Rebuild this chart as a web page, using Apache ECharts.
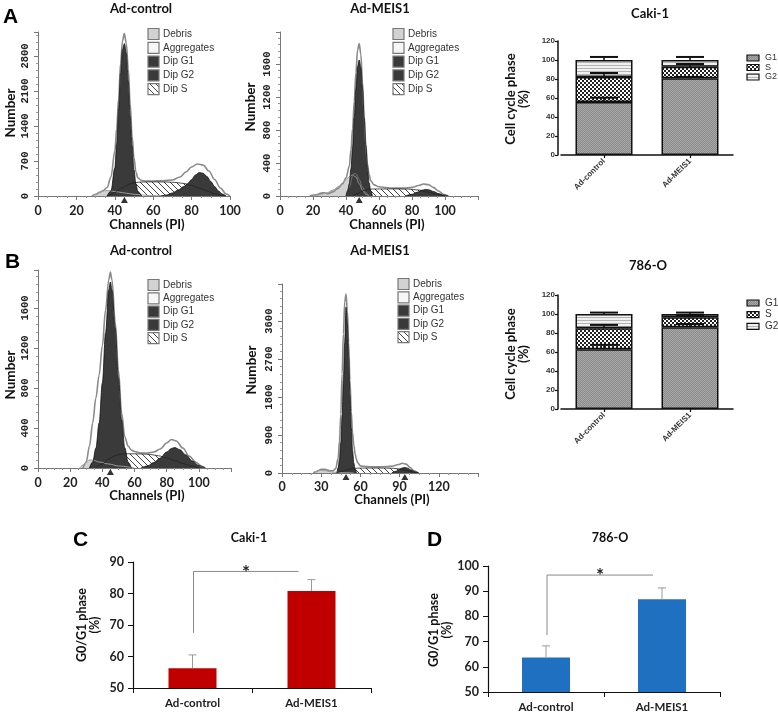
<!DOCTYPE html>
<html><head><meta charset="utf-8">
<script src="https://cdn.jsdelivr.net/npm/echarts@6/dist/echarts.min.js"></script>
<style>html,body{margin:0;padding:0;background:#fff}#c{width:778px;height:713px}</style>
</head><body><div id="c"></div>
<script>
// ---------------- DATA ----------------
// Panel A (Caki-1) DNA histograms: [channel, count]
const a1Env = [[28,0],[30,30],[32,70],[34,110],[36,170],[38,380],[40,900],[41,1350],[42,1950],[43,2650],[44,3100],[45,3250],[46,3050],[47,2550],[48,1850],[49,1200],[50,760],[51,480],[52,360],[54,310],[56,300],[60,300],[65,305],[70,320],[74,380],[77,480],[80,580],[83,640],[86,620],[89,500],[92,330],[95,160],[98,40],[100,0]];
const a1Debris = [[28,0],[30,40],[32,80],[34,100],[36,110],[38,100],[42,80],[46,55],[50,35],[58,10],[66,0]];
const a1S = [[36,0],[38,30],[40,70],[42,120],[44,165],[46,210],[48,245],[50,265],[53,278],[57,282],[62,282],[67,280],[72,270],[76,250],[80,210],[84,160],[88,100],[92,45],[95,10],[97,0]];
const a1G2 = [[64,0],[67,20],[70,60],[73,120],[76,190],[78,250],[80,330],[82,420],[84,470],[86,455],[88,390],[90,290],[92,190],[94,100],[96,40],[98,0]];
const a1G1 = [[36,0],[38,100],[40,560],[41,1050],[42,1750],[43,2450],[44,2930],[45,3050],[46,2850],[47,2300],[48,1600],[49,1000],[50,520],[51,240],[52,90],[54,0]];
const a1Peaks = [[45,0]];

const a2Env = [[18,0],[22,15],[25,35],[27,40],[29,28],[32,50],[35,90],[38,150],[40,220],[42,360],[43,560],[44,820],[45,1150],[46,1500],[47,1770],[48,1850],[49,1720],[50,1380],[51,980],[52,620],[53,390],[54,260],[55,185],[57,135],[60,112],[65,100],[70,96],[75,96],[80,105],[84,128],[87,145],[90,138],[93,105],[96,60],[99,22],[102,0]];
const a2Debris = [[20,0],[24,15],[28,35],[32,70],[36,120],[38,160],[40,200],[42,235],[44,255],[46,230],[48,150],[50,70],[52,20],[54,0]];
const a2Sub = [[40,0],[42,110],[44,240],[45,275],[46,270],[48,200],[50,110],[52,40],[54,0]];
const a2S = [[44,0],[47,30],[50,60],[53,78],[56,85],[62,86],[70,86],[78,84],[84,72],[90,45],[95,20],[100,0]];
const a2G2 = [[76,0],[80,20],[83,45],[86,70],[88,80],[90,76],[93,55],[96,30],[99,10],[102,0]];
const a2G1 = [[40,0],[41,60],[42,150],[43,330],[44,600],[45,950],[46,1300],[47,1570],[48,1650],[49,1560],[50,1300],[51,950],[52,620],[53,350],[54,160],[55,60],[56,0]];
const a2Peaks = [[48,0]];

// Panel B (786-O) DNA histograms
const b1Env = [[28,0],[30,60],[32,220],[34,450],[36,700],[38,930],[40,1220],[42,1580],[44,1880],[45,1960],[46,1880],[48,1460],[50,980],[52,550],[54,310],[56,220],[58,180],[60,165],[64,150],[68,150],[72,160],[76,190],[80,250],[83,285],[86,270],[90,200],[94,120],[98,60],[102,15],[104,0]];
const b1Debris = [[26,0],[28,30],[30,60],[32,80],[34,80],[38,60],[44,40],[50,20],[60,0]];
const b1S = [[36,0],[40,40],[44,90],[48,125],[52,140],[56,142],[60,142],[65,140],[70,135],[75,122],[80,100],[85,75],[90,45],[95,20],[100,0]];
const b1G2 = [[64,0],[68,20],[72,55],[76,100],[80,160],[83,195],[85,205],[88,185],[92,130],[96,70],[100,25],[104,0]];
const b1G1 = [[32,0],[34,60],[36,200],[38,450],[40,850],[42,1350],[44,1780],[45,1860],[46,1780],[48,1400],[50,900],[52,480],[54,200],[56,60],[58,0]];
const b1Peaks = [[45,0]];

const b2Env = [[24,0],[26,30],[28,60],[30,85],[33,85],[36,60],[39,50],[41,100],[43,350],[44,760],[45,1400],[46,2350],[47,3300],[48,4050],[49,4240],[50,3850],[51,3100],[52,2200],[53,1450],[54,950],[55,650],[56,450],[57,320],[58,240],[60,170],[65,150],[70,145],[75,145],[80,150],[85,165],[89,200],[92,230],[95,210],[98,130],[101,50],[104,0]];
const b2Debris = [[24,0],[26,30],[28,55],[30,62],[33,55],[36,35],[40,20],[45,10],[55,0]];
const b2S = [[42,0],[46,40],[50,80],[54,105],[58,115],[65,118],[75,118],[85,112],[90,95],[95,60],[100,25],[104,0]];
const b2G2 = [[84,0],[87,40],[90,90],[92,120],[94,130],[96,115],[99,70],[102,25],[105,0]];
const b2G1 = [[42,0],[43,130],[44,330],[45,720],[46,1350],[47,2200],[48,3100],[49,3930],[50,3550],[51,2750],[52,1850],[53,1070],[54,530],[55,230],[56,85],[57,0]];
const b2Peaks = [[49,0],[94,0]];

// Stacked cell-cycle bars (%)
const barCats = ['Ad-control', 'Ad-MEIS1'];
const caki_G1 = [55.8, 80.7], caki_S = [26.2, 12.3], caki_G2 = [18.0, 7.0];
const caki_G1_err = [4.5, 1.5], caki_S_err = [4.3, 2.8], caki_G2_err = [3.2, 3.2];
const o786_G1 = [63.0, 86.0], o786_S = [22.0, 10.5], o786_G2 = [15.0, 3.5];
const o786_G1_err = [4.5, 3.5], o786_S_err = [3.5, 2.0], o786_G2_err = [1.5, 1.5];

// G0/G1 phase (%)
const g1C_mean = [56.3, 80.8], g1C_err = [4.2, 3.6];
const g1D_mean = [63.7, 86.8], g1D_err = [4.6, 4.5];
const sigC = [67.5, 87.0], sigD = [72.6, 96.4];

// ---------------- STYLE HELPERS ----------------
function pat(w, h, fn) { const c = document.createElement('canvas'); c.width = w; c.height = h; const g = c.getContext('2d'); fn(g, w, h); return { image: c, repeat: 'repeat' }; }
const hatch = pat(6, 6, g => { g.fillStyle = '#fff'; g.fillRect(0,0,6,6); g.strokeStyle = '#444'; g.lineWidth = 1; g.beginPath(); g.moveTo(-1,-1); g.lineTo(7,7); g.moveTo(-1,5); g.lineTo(1,7); g.moveTo(5,-1); g.lineTo(7,1); g.stroke(); });
const dotG1 = pat(2, 2, g => { g.fillStyle = '#8a8a8a'; g.fillRect(0,0,2,2); g.fillStyle = '#a9a9a9'; g.fillRect(0,0,1,1); g.fillRect(1,1,1,1); });
const checkS = pat(4, 4, g => { g.fillStyle = '#222'; g.fillRect(0,0,4,4); g.fillStyle = '#fff'; g.fillRect(0,0,2,2); g.fillRect(2,2,2,2); });
const stripeG2 = pat(1, 3, g => { g.fillStyle = '#f0f0f0'; g.fillRect(0,0,1,3); g.fillStyle = '#b4b4b4'; g.fillRect(0,2,1,1); });
const DARK = '#3a3a3a';

function area(gi, data, fill, line, lw) {
  return { type: 'line', xAxisIndex: gi, yAxisIndex: gi, data, smooth: 0.35, smoothMonotone: 'x', showSymbol: false, symbol: 'none',
    lineStyle: { color: line, width: lw }, areaStyle: fill ? { color: fill, opacity: 1 } : undefined, silent: true };
}
function peaks(gi, data) {
  return { type: 'scatter', xAxisIndex: gi, yAxisIndex: gi, data, symbol: 'triangle', symbolSize: [7, 6], symbolOffset: [0, 4], itemStyle: { color: '#000' }, clip: false, z: 10, silent: true };
}
function hist(gi, env, debris, sub, s, g2, g1, pk) {
  const out = [area(gi, env, '#ffffff', '#8a8a8a', 1.6), area(gi, debris, '#d2d2d2', '#9a9a9a', 1)];
  if (sub) out.push(area(gi, sub, '#8c8c8c', '#777', 1));
  out.push(area(gi, s, hatch, '#222', 0.8), area(gi, g2, DARK, '#111', 0.8), area(gi, g1, DARK, '#111', 0.8), peaks(gi, pk));
  return out;
}
const plain = v => String(v);
function histX(gi, max, interval, showMax, margin) {
  return { type: 'value', gridIndex: gi, min: 0, max, interval,
    axisLine: { show: true, onZero: false, lineStyle: { color: '#777', width: 1 } },
    axisTick: { show: true, length: 4, lineStyle: { color: '#777' } },
    minorTick: { show: true, splitNumber: 4, length: 2, lineStyle: { color: '#999' } },
    splitLine: { show: false },
    axisLabel: { fontFamily: 'Lato', fontWeight: 'bold', fontSize: 12.5, color: '#222', margin, showMaxLabel: showMax, showMinLabel: true, formatter: plain } };
}
function histY(gi, max, interval) {
  return { type: 'value', gridIndex: gi, min: 0, max, interval,
    axisLine: { show: true, onZero: false, lineStyle: { color: '#777', width: 1 } },
    axisTick: { show: true, length: 4, lineStyle: { color: '#777' } },
    minorTick: { show: true, splitNumber: 5, length: 2, lineStyle: { color: '#999' } },
    splitLine: { show: false },
    axisLabel: { rotate: 90, fontFamily: 'Liberation Mono', fontWeight: 'bold', fontSize: 10.5, color: '#222', margin: 7, showMaxLabel: false, formatter: plain } };
}
function barX(gi) {
  return { type: 'category', gridIndex: gi, data: barCats,
    axisLine: { show: true, lineStyle: { color: '#111', width: 1.5 } },
    axisTick: { show: true, alignWithLabel: true, length: 3, lineStyle: { color: '#111', width: 1.2 } },
    axisLabel: { rotate: 45, fontFamily: 'Liberation Sans', fontWeight: 'bold', fontSize: 8, color: '#333', margin: 5 } };
}
function barY(gi) {
  return { type: 'value', gridIndex: gi, min: 0, max: 120, interval: 20, offset: 3,
    axisLine: { show: true, lineStyle: { color: '#111', width: 1.5 } },
    axisTick: { show: true, length: 3, lineStyle: { color: '#111', width: 1.2 } },
    splitLine: { show: false },
    axisLabel: { fontFamily: 'Liberation Sans', fontWeight: 'bold', fontSize: 8, color: '#333', margin: 3 } };
}
function stacked(gi, G1, S, G2, G1e, Se, G2e) {
  const mk = (d, fill) => ({ type: 'bar', xAxisIndex: gi, yAxisIndex: gi, stack: 'st' + gi, data: d, barWidth: 57,
    itemStyle: { color: fill, borderColor: '#111', borderWidth: 1.5 }, silent: true });
  const err = [];
  for (let i = 0; i < G1.length; i++) {
    err.push([i, G1[i], G1e[i]]);
    err.push([i, G1[i] + S[i], Se[i]]);
    err.push([i, G1[i] + S[i] + G2[i], G2e[i]]);
  }
  return [mk(G1, dotG1), mk(S, checkS), mk(G2, stripeG2), {
    type: 'custom', xAxisIndex: gi, yAxisIndex: gi, data: err, z: 10, silent: true,
    renderItem: (p, api) => { const a = api.coord([api.value(0), api.value(1)]); const b = api.coord([api.value(0), api.value(1) + api.value(2)]);
      return { type: 'group', children: [
        { type: 'line', shape: { x1: a[0], y1: a[1], x2: b[0], y2: b[1] }, style: { stroke: '#111', lineWidth: 1.5 } },
        { type: 'line', shape: { x1: b[0] - 14, y1: b[1], x2: b[0] + 14, y2: b[1] }, style: { stroke: '#111', lineWidth: 2 } } ] }; } }];
}
function simpleX(gi) {
  return { type: 'category', gridIndex: gi, data: barCats,
    axisLine: { show: true, lineStyle: { color: '#111', width: 1.2 } },
    axisTick: { show: true, alignWithLabel: false, length: 5, lineStyle: { color: '#111' } },
    axisLabel: { fontFamily: 'Lato', fontWeight: 'bold', fontSize: 11.5, color: '#222', margin: 9 } };
}
function simpleY(gi, min, max) {
  return { type: 'value', gridIndex: gi, min, max, interval: 10,
    axisLine: { show: true, lineStyle: { color: '#111', width: 1.2 } },
    axisTick: { show: true, length: 5, lineStyle: { color: '#111' } },
    splitLine: { show: false },
    axisLabel: { fontFamily: 'Lato', fontWeight: 'bold', fontSize: 12.5, color: '#222', margin: 9 } };
}
function simpleBars(gi, mean, err, color, sig, rOff) {
  return [
    { type: 'bar', xAxisIndex: gi, yAxisIndex: gi, data: mean, barWidth: 48, itemStyle: { color }, silent: true },
    { type: 'custom', xAxisIndex: gi, yAxisIndex: gi, data: mean.map((m, i) => [i, m, err[i]]), z: 10, silent: true,
      renderItem: (p, api) => { const a = api.coord([api.value(0), api.value(1)]); const b = api.coord([api.value(0), api.value(1) + api.value(2)]);
        return { type: 'group', children: [
          { type: 'line', shape: { x1: a[0], y1: a[1], x2: b[0], y2: b[1] }, style: { stroke: '#9a9a9a', lineWidth: 1 } },
          { type: 'line', shape: { x1: b[0] - 4, y1: b[1], x2: b[0] + 4, y2: b[1] }, style: { stroke: '#9a9a9a', lineWidth: 1 } } ] }; } },
    { type: 'custom', xAxisIndex: gi, yAxisIndex: gi, data: [[0, sig[0], sig[1]]], z: 10, silent: true,
      renderItem: (p, api) => { const a = api.coord([0, api.value(1)]); const b = api.coord([0, api.value(2)]); const c = api.coord([1, api.value(2)]);
        const xl = a[0] + 1, xr = c[0] - rOff;
        return { type: 'group', children: [
          { type: 'polyline', shape: { points: [[xl, a[1]], [xl, b[1]], [xr, b[1]]] }, style: { stroke: '#8a8a8a', lineWidth: 1, fill: null } },
          { type: 'text', x: (xl + xr) / 2, y: b[1] + 1, style: { text: '*', font: 'bold 19px Lato', fill: '#222', align: 'center', verticalAlign: 'middle' } } ] }; } }
  ];
}

// ---------------- GRAPHIC TEXT ----------------
const g = [];
function txt(x, y, s, font, opts) { g.push(Object.assign({ type: 'text', x, y, silent: true, style: { text: s, font, fill: '#111', align: 'center', verticalAlign: 'middle' } }, opts || {})); }
function vtxt(x, y, s, font) { txt(x, y, s, font, { rotation: Math.PI / 2 }); }
function letter(x, y, s) { g.push({ type: 'text', x, y, silent: true, style: { text: s, font: 'bold 21px "Liberation Sans"', fill: '#000', align: 'left', verticalAlign: 'middle' } }); }
const TB = 'bold 13px Lato';
letter(3, 17, 'A'); letter(5, 262, 'B'); letter(73, 540, 'C'); letter(427, 540, 'D');
txt(141, 9, 'Ad-control', TB); txt(380, 9, 'Ad-MEIS1', TB); txt(650, 14, 'Caki-1', 'bold 13px Lato');
txt(141, 251, 'Ad-control', TB); txt(380, 251, 'Ad-MEIS1', TB); txt(648, 266, '786-O', 'bold 13px Lato');
txt(249, 538, 'Caki-1', 'bold 12.5px Lato'); txt(610, 538, '786-O', 'bold 12.5px Lato');
vtxt(11, 113, 'Number', 'bold 13.5px Lato'); vtxt(251, 107, 'Number', 'bold 13.5px Lato');
vtxt(11, 375, 'Number', 'bold 13.5px Lato'); vtxt(252, 370, 'Number', 'bold 13.5px Lato');
txt(147, 225, 'Channels (PI)', TB); txt(387, 225, 'Channels (PI)', TB);
txt(147, 496, 'Channels (PI)', TB); txt(392, 500, 'Channels (PI)', TB);
vtxt(517, 99, 'Cell cycle phase\n(%)', 'bold 13px Lato'); vtxt(517, 354, 'Cell cycle phase\n(%)', 'bold 13px Lato');
vtxt(88, 625, 'G0/G1 phase\n(%)', 'bold 12.5px Lato'); vtxt(440, 630, 'G0/G1 phase\n(%)', 'bold 12.5px Lato');

const legItems = [['Debris', '#d2d2d2'], ['Aggregates', '#f6f6f6'], ['Dip G1', DARK], ['Dip G2', DARK], ['Dip S', hatch]];
function histLegend(x, y0, dy) {
  legItems.forEach((it, i) => {
    const y = y0 + i * dy;
    g.push({ type: 'rect', silent: true, shape: { x: x, y: y - 5.5, width: 11, height: 11 }, style: { fill: it[1], stroke: '#777', lineWidth: 1.2 } });
    g.push({ type: 'text', silent: true, x: x + 15, y: y, style: { text: it[0], font: '10px "Liberation Sans"', fill: '#333', align: 'left', verticalAlign: 'middle' } });
  });
}
histLegend(148, 34, 13.8); histLegend(393, 34, 13.8); histLegend(148, 285, 13.3); histLegend(398, 284, 13.3);
function barLegend(y0, dy, fs) {
  [['G1', dotG1], ['S', checkS], ['G2', stripeG2]].forEach((it, i) => {
    const y = y0 + i * dy;
    g.push({ type: 'rect', silent: true, shape: { x: 747, y: y - 3, width: 12, height: 6 }, style: { fill: it[1], stroke: '#111', lineWidth: 1.2 } });
    g.push({ type: 'text', silent: true, x: 765, y: y, style: { text: it[0], font: fs + 'px "Liberation Sans"', fill: '#333', align: 'left', verticalAlign: 'middle' } });
  });
}
barLegend(58, 9.5, 9); barLegend(303, 11.7, 10);

// ---------------- CHART ----------------
const grid = [
  { left: 38, top: 32, width: 192, height: 164 },
  { left: 280, top: 32, width: 198, height: 164 },
  { left: 38, top: 270, width: 193, height: 198 },
  { left: 282, top: 284, width: 196, height: 189 },
  { left: 561, top: 41, width: 172, height: 114 },
  { left: 561, top: 295, width: 172, height: 114 },
  { left: 133, top: 562, width: 238, height: 126 },
  { left: 488, top: 566, width: 232, height: 126 }
].map(o => Object.assign({ outerBoundsMode: 'none', containLabel: false }, o));

const option = {
  animation: false,
  backgroundColor: '#fff',
  textStyle: { fontFamily: 'Liberation Sans' },
  grid,
  xAxis: [histX(0, 100, 20, true, 8), histX(1, 120, 20, false, 8), histX(2, 120, 20, false, 8), histX(3, 150, 30, false, 7),
          barX(4), barX(5), simpleX(6), simpleX(7)],
  yAxis: [histY(0, 3280, 700), histY(1, 1990, 400), histY(2, 1980, 400), histY(3, 4480, 900),
          barY(4), barY(5), simpleY(6, 50, 90), simpleY(7, 50, 100)],
  series: [].concat(
    hist(0, a1Env, a1Debris, null, a1S, a1G2, a1G1, a1Peaks),
    hist(1, a2Env, a2Debris, a2Sub, a2S, a2G2, a2G1, a2Peaks),
    hist(2, b1Env, b1Debris, null, b1S, b1G2, b1G1, b1Peaks),
    hist(3, b2Env, b2Debris, null, b2S, b2G2, b2G1, b2Peaks),
    stacked(4, caki_G1, caki_S, caki_G2, caki_G1_err, caki_S_err, caki_G2_err),
    stacked(5, o786_G1, o786_S, o786_G2, o786_G1_err, o786_S_err, o786_G2_err),
    simpleBars(6, g1C_mean, g1C_err, '#C00000', sigC, 13),
    simpleBars(7, g1D_mean, g1D_err, '#1F70C1', sigD, 9)
  ),
  graphic: { elements: g }
};
const chart = echarts.init(document.getElementById('c'), null, { renderer: 'canvas', width: 778, height: 713 });
chart.setOption(option);
</script>
</body></html>
